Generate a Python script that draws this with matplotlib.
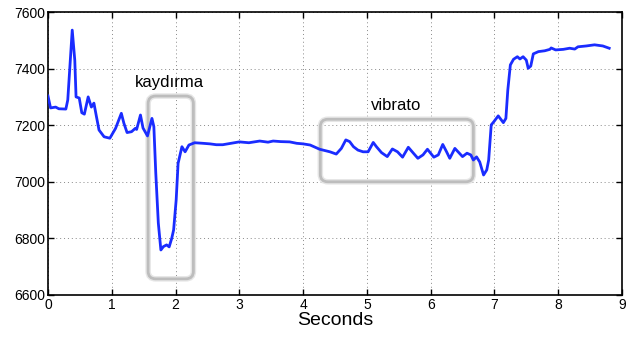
import numpy as np
import matplotlib.pyplot as plt
from matplotlib.patches import FancyBboxPatch

plt.rcParams['font.family'] = ['Liberation Sans', 'DejaVu Sans']

#%% Data read off the pitch track (seconds, cents-ish)

t = [0.00, 0.04, 0.12, 0.17, 0.28, 0.31, 0.38, 0.42, 0.44, 0.49, 0.53, 0.57, 0.63, 0.68,
     0.72, 0.76, 0.80, 0.88, 0.97, 1.06, 1.15, 1.19, 1.24, 1.31, 1.37, 1.39, 1.45, 1.49,
     1.56, 1.63, 1.66, 1.69, 1.73, 1.77, 1.81, 1.86, 1.90, 1.94, 1.97, 2.01, 2.04, 2.10,
     2.15, 2.21, 2.30, 2.43, 2.54, 2.64, 2.74, 2.87, 3.00, 3.15, 3.32, 3.45, 3.53, 3.65,
     3.79, 3.90, 4.00, 4.11, 4.26, 4.42, 4.52, 4.60, 4.67, 4.73, 4.79, 4.86, 4.94, 5.02,
     5.10, 5.15, 5.23, 5.32, 5.40, 5.48, 5.56, 5.65, 5.73, 5.80, 5.88, 5.95, 6.00, 6.05,
     6.12, 6.19, 6.25, 6.30, 6.38, 6.43, 6.50, 6.57, 6.63, 6.67, 6.72, 6.77, 6.83, 6.88,
     6.91, 6.95, 6.99, 7.06, 7.14, 7.18, 7.21, 7.25, 7.30, 7.36, 7.40, 7.45, 7.50, 7.53,
     7.57, 7.61, 7.69, 7.79, 7.87, 7.89, 7.96, 8.08, 8.18, 8.26, 8.31, 8.44, 8.57, 8.70,
     8.80]
pitch = [7303, 7261, 7264, 7258, 7257, 7289, 7536, 7430, 7300, 7296, 7244, 7239, 7300, 7264,
         7278, 7230, 7183, 7159, 7154, 7189, 7242, 7207, 7174, 7177, 7189, 7185, 7236, 7190,
         7162, 7224, 7195, 7031, 6854, 6759, 6771, 6777, 6770, 6800, 6830, 6936, 7065, 7124,
         7106, 7130, 7138, 7136, 7134, 7131, 7131, 7136, 7141, 7138, 7144, 7140, 7144, 7142,
         7141, 7136, 7134, 7130, 7115, 7106, 7098, 7118, 7148, 7142, 7124, 7112, 7106, 7106,
         7139, 7124, 7103, 7089, 7116, 7106, 7087, 7122, 7101, 7083, 7095, 7115, 7101, 7087,
         7095, 7132, 7106, 7083, 7118, 7106, 7089, 7101, 7095, 7077, 7088, 7070, 7024, 7042,
         7077, 7201, 7212, 7233, 7209, 7224, 7324, 7413, 7433, 7442, 7434, 7442, 7430, 7401,
         7409, 7452, 7460, 7463, 7468, 7473, 7466, 7468, 7472, 7469, 7477, 7480, 7484, 7480,
         7472]

xticks = np.arange(0, 10, 1)
yticks = np.arange(6600, 7601, 200)

#%% Plot

fig = plt.figure(figsize=(6.34, 3.40), dpi=100)
ax = fig.add_axes([0.0757, 0.1324, 0.9053, 0.8323])

ax.plot(t, pitch, color='#1a2cff', linewidth=2.0, zorder=4)

ax.set_xlim(0, 9)
ax.set_ylim(6600, 7600)
ax.set_xticks(xticks)
ax.set_yticks(yticks)
ax.tick_params(direction='in', top=True, right=True, labelsize=10, length=4, width=1, pad=2)
ax.grid(True, linestyle=(0, (1, 3)), color='#888888', linewidth=0.7)
for s in ax.spines.values():
    s.set_linewidth(1.2)
ax.set_xlabel('Seconds', fontsize=14, labelpad=0)

#rounded grey boxes around the two regions; mutation_aspect keeps corners round
aspect = 28 / 0.125
for (x0, y0, x1, y1) in [(1.57, 6657, 2.28, 7303), (4.27, 7000, 6.67, 7221)]:
    for lw, col in [(4.0, '#e6e6e6'), (2.0, '#bdbdbd')]:
        box = FancyBboxPatch((x0, y0), x1 - x0, y1 - y0,
                             boxstyle='round,pad=0,rounding_size=0.12',
                             mutation_aspect=aspect, facecolor='none',
                             edgecolor=col, linewidth=lw, zorder=3)
        ax.add_patch(box)

ax.text(1.9, 7352, 'kaydırma', fontsize=12, ha='center', va='center')
ax.text(5.46, 7268, 'vibrato', fontsize=12, ha='center', va='center')

plt.savefig('out.png', dpi=100)
